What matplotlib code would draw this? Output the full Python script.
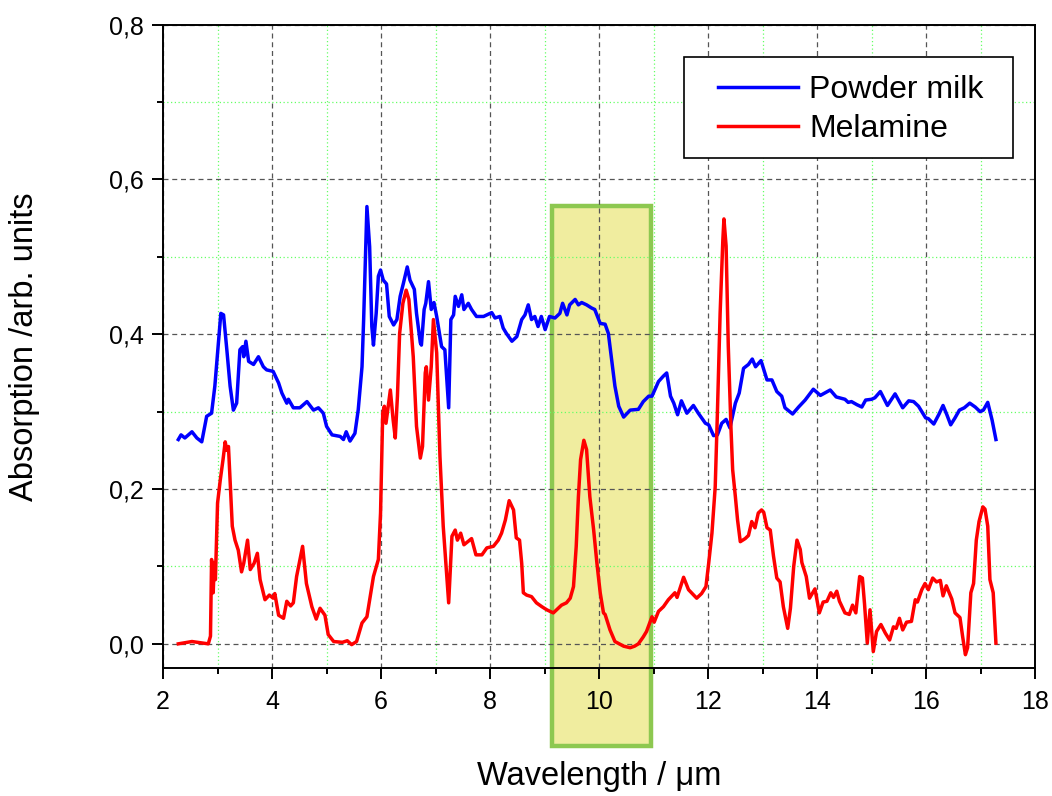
import matplotlib
matplotlib.use('Agg')
import matplotlib.pyplot as plt
import matplotlib.ticker as mtick
from matplotlib.patches import Rectangle

plt.rcParams['font.family'] = ['Liberation Sans', 'DejaVu Sans']

# Powder milk spectrum (wavelength in um, absorption)
milk_x = [2.28, 2.33, 2.40, 2.53, 2.62, 2.71, 2.80, 2.89, 2.95, 3.01, 3.06, 3.11,
          3.17, 3.23, 3.29, 3.35, 3.41, 3.46, 3.48, 3.52, 3.57, 3.66, 3.75, 3.84,
          3.90, 4.02, 4.12, 4.18, 4.27, 4.30, 4.39, 4.51, 4.64, 4.76, 4.85, 4.94,
          5.00, 5.10, 5.25, 5.31, 5.36, 5.43, 5.52, 5.58, 5.65, 5.68, 5.74, 5.79,
          5.83, 5.86, 5.91, 5.95, 5.99, 6.04, 6.10, 6.15, 6.23, 6.29, 6.35, 6.41,
          6.48, 6.53, 6.61, 6.65, 6.72, 6.74, 6.79, 6.82, 6.87, 6.92, 6.97, 7.02,
          7.11, 7.17, 7.24, 7.28, 7.33, 7.36, 7.42, 7.48, 7.52, 7.60, 7.66, 7.75,
          7.88, 8.03, 8.09, 8.18, 8.24, 8.30, 8.40, 8.49, 8.58, 8.64, 8.70, 8.76,
          8.82, 8.88, 8.94, 9.01, 9.09, 9.19, 9.28, 9.33, 9.41, 9.46, 9.56, 9.62,
          9.68, 9.77, 9.86, 9.92, 10.02, 10.11, 10.17, 10.23, 10.29, 10.36, 10.45,
          10.57, 10.72, 10.81, 10.91, 10.97, 11.09, 11.18, 11.24, 11.31, 11.37,
          11.44, 11.51, 11.61, 11.73, 11.82, 11.95, 12.01, 12.10, 12.17, 12.25,
          12.33, 12.40, 12.50, 12.57, 12.65, 12.74, 12.81, 12.87, 12.97, 13.08,
          13.17, 13.26, 13.35, 13.41, 13.55, 13.66, 13.78, 13.93, 14.06, 14.24,
          14.35, 14.51, 14.57, 14.63, 14.73, 14.82, 14.89, 15.00, 15.06, 15.16,
          15.29, 15.43, 15.57, 15.68, 15.77, 15.86, 15.99, 16.04, 16.14, 16.23,
          16.31, 16.38, 16.45, 16.53, 16.61, 16.70, 16.80, 16.90, 16.99, 17.05,
          17.13, 17.21, 17.28]
milk_y = [0.264, 0.270, 0.266, 0.274, 0.266, 0.261, 0.294, 0.298, 0.333, 0.384,
          0.427, 0.425, 0.380, 0.333, 0.302, 0.311, 0.380, 0.384, 0.371, 0.391,
          0.365, 0.361, 0.371, 0.358, 0.354, 0.352, 0.337, 0.324, 0.311, 0.316,
          0.305, 0.305, 0.313, 0.302, 0.305, 0.298, 0.281, 0.270, 0.268, 0.264,
          0.274, 0.262, 0.272, 0.302, 0.358, 0.419, 0.565, 0.513, 0.410, 0.386,
          0.427, 0.475, 0.483, 0.470, 0.465, 0.423, 0.412, 0.419, 0.449, 0.466,
          0.487, 0.470, 0.458, 0.427, 0.389, 0.386, 0.432, 0.440, 0.468, 0.432,
          0.441, 0.423, 0.384, 0.380, 0.305, 0.419, 0.425, 0.449, 0.436, 0.451,
          0.432, 0.440, 0.432, 0.423, 0.423, 0.428, 0.421, 0.423, 0.408, 0.401,
          0.391, 0.397, 0.419, 0.425, 0.438, 0.419, 0.423, 0.410, 0.423, 0.406,
          0.423, 0.421, 0.427, 0.440, 0.425, 0.438, 0.445, 0.438, 0.441, 0.438,
          0.434, 0.432, 0.414, 0.413, 0.401, 0.367, 0.333, 0.307, 0.293, 0.302,
          0.303, 0.313, 0.320, 0.320, 0.339, 0.346, 0.350, 0.320, 0.311, 0.296,
          0.314, 0.298, 0.308, 0.298, 0.285, 0.283, 0.269, 0.270, 0.285, 0.290,
          0.279, 0.311, 0.324, 0.356, 0.361, 0.368, 0.358, 0.366, 0.341, 0.341,
          0.326, 0.320, 0.305, 0.297, 0.306, 0.315, 0.329, 0.321, 0.328, 0.319,
          0.316, 0.312, 0.313, 0.309, 0.306, 0.315, 0.316, 0.318, 0.326, 0.308,
          0.323, 0.305, 0.314, 0.313, 0.307, 0.292, 0.291, 0.284, 0.296, 0.308,
          0.296, 0.283, 0.292, 0.302, 0.305, 0.311, 0.306, 0.300, 0.302, 0.312,
          0.289, 0.264]

# Melamine spectrum
mel_x = [2.28, 2.53, 2.83, 2.87, 2.89, 2.92, 2.94, 2.96, 3.00, 3.05, 3.10, 3.14,
         3.17, 3.20, 3.24, 3.27, 3.32, 3.38, 3.44, 3.48, 3.55, 3.60, 3.67, 3.73,
         3.78, 3.87, 3.95, 4.02, 4.05, 4.12, 4.21, 4.27, 4.34, 4.39, 4.45, 4.56,
         4.63, 4.73, 4.81, 4.88, 4.97, 5.03, 5.13, 5.29, 5.38, 5.46, 5.55, 5.65,
         5.74, 5.80, 5.86, 5.95, 5.99, 6.03, 6.06, 6.09, 6.17, 6.22, 6.26, 6.30,
         6.34, 6.40, 6.46, 6.51, 6.59, 6.65, 6.72, 6.76, 6.81, 6.83, 6.87, 6.92,
         6.96, 7.02, 7.08, 7.14, 7.24, 7.30, 7.36, 7.40, 7.46, 7.52, 7.66, 7.74,
         7.85, 7.94, 8.06, 8.15, 8.21, 8.28, 8.35, 8.43, 8.48, 8.54, 8.58, 8.61,
         8.67, 8.76, 8.85, 8.95, 9.04, 9.16, 9.22, 9.31, 9.40, 9.47, 9.53, 9.58,
         9.62, 9.66, 9.72, 9.77, 9.83, 9.90, 9.96, 10.02, 10.08, 10.11, 10.20,
         10.29, 10.45, 10.57, 10.65, 10.72, 10.81, 10.87, 10.97, 11.01, 11.09,
         11.18, 11.27, 11.39, 11.43, 11.55, 11.64, 11.79, 11.88, 11.96, 12.01,
         12.07, 12.13, 12.17, 12.22, 12.27, 12.29, 12.33, 12.37, 12.42, 12.45,
         12.50, 12.54, 12.59, 12.68, 12.74, 12.80, 12.86, 12.92, 12.98, 13.02,
         13.08, 13.14, 13.20, 13.26, 13.32, 13.38, 13.46, 13.51, 13.57, 13.63,
         13.69, 13.72, 13.80, 13.86, 13.96, 14.04, 14.11, 14.18, 14.25, 14.30,
         14.36, 14.41, 14.51, 14.59, 14.65, 14.71, 14.78, 14.83, 14.87, 14.92,
         14.97, 15.03, 15.09, 15.17, 15.25, 15.33, 15.40, 15.45, 15.51, 15.57,
         15.64, 15.73, 15.80, 15.84, 15.92, 15.98, 16.04, 16.12, 16.19, 16.26,
         16.31, 16.37, 16.47, 16.53, 16.62, 16.67, 16.72, 16.76, 16.82, 16.87,
         16.92, 16.97, 17.04, 17.08, 17.13, 17.17, 17.23, 17.28]
mel_y = [0.000, 0.003, 0.000, 0.010, 0.109, 0.066, 0.105, 0.083, 0.182, 0.212,
         0.238, 0.261, 0.250, 0.255, 0.195, 0.152, 0.134, 0.121, 0.093, 0.104,
         0.134, 0.096, 0.104, 0.117, 0.083, 0.057, 0.063, 0.059, 0.065, 0.037,
         0.033, 0.055, 0.049, 0.053, 0.087, 0.126, 0.078, 0.048, 0.032, 0.046,
         0.037, 0.012, 0.003, 0.002, 0.004, -0.001, 0.003, 0.027, 0.035, 0.061,
         0.087, 0.109, 0.169, 0.298, 0.307, 0.285, 0.328, 0.290, 0.266, 0.320,
         0.401, 0.440, 0.457, 0.445, 0.371, 0.281, 0.240, 0.255, 0.350, 0.358,
         0.315, 0.358, 0.419, 0.376, 0.242, 0.152, 0.053, 0.139, 0.147, 0.134,
         0.143, 0.128, 0.136, 0.115, 0.115, 0.124, 0.126, 0.134, 0.143, 0.160,
         0.185, 0.173, 0.137, 0.134, 0.104, 0.066, 0.063, 0.061, 0.053, 0.048,
         0.044, 0.040, 0.044, 0.050, 0.053, 0.059, 0.074, 0.126, 0.190, 0.238,
         0.263, 0.251, 0.190, 0.147, 0.104, 0.066, 0.040, 0.038, 0.018, 0.003,
         -0.003, -0.005, -0.003, 0.000, 0.009, 0.016, 0.035, 0.028, 0.042, 0.048,
         0.057, 0.066, 0.060, 0.086, 0.070, 0.059, 0.065, 0.074, 0.104, 0.143,
         0.203, 0.298, 0.427, 0.522, 0.549, 0.514, 0.384, 0.277, 0.225, 0.190,
         0.160, 0.132, 0.136, 0.140, 0.158, 0.150, 0.169, 0.173, 0.170, 0.150,
         0.147, 0.113, 0.085, 0.080, 0.048, 0.020, 0.046, 0.100, 0.134, 0.122,
         0.105, 0.087, 0.059, 0.071, 0.040, 0.054, 0.055, 0.066, 0.060, 0.068,
         0.055, 0.040, 0.038, 0.050, 0.040, 0.087, 0.085, 0.051, 0.001, 0.044,
         -0.010, 0.016, 0.025, 0.014, 0.005, 0.022, 0.020, 0.033, 0.018, 0.028,
         0.029, 0.057, 0.054, 0.070, 0.078, 0.070, 0.085, 0.080, 0.082, 0.062,
         0.075, 0.058, 0.040, 0.034, 0.009, -0.014, -0.005, 0.066, 0.078, 0.134,
         0.158, 0.177, 0.174, 0.152, 0.083, 0.066, 0.001]

# highlighted band (um) and its vertical extent
band_x = [9.14, 10.95]
band_y = [-0.132, 0.566]

fig = plt.figure(figsize=(10.52, 7.96), dpi=100)
ax = fig.add_axes([0.155, 0.161, 0.829, 0.808])

ax.plot(milk_x, milk_y, color='#0000ff', lw=2.5, label='Powder milk', zorder=3)
ax.plot(mel_x, mel_y, color='#ff0000', lw=2.5, label='Melamine', zorder=3)

rect = Rectangle((band_x[0], band_y[0]), band_x[1] - band_x[0], band_y[1] - band_y[0],
                 facecolor='#f0ed9f', edgecolor='#8dc850', lw=3.2,
                 clip_on=False, zorder=0.3)
ax.add_patch(rect)

ax.set_xlim(2, 18)
ax.set_ylim(-0.031, 0.8)
ax.xaxis.set_major_locator(mtick.MultipleLocator(2))
ax.xaxis.set_minor_locator(mtick.MultipleLocator(1))
ax.yaxis.set_major_locator(mtick.MultipleLocator(0.2))
ax.yaxis.set_minor_locator(mtick.MultipleLocator(0.1))
ax.yaxis.set_major_formatter(mtick.FuncFormatter(lambda v, p: ('%.1f' % v).replace('.', ',')))

ax.set_axisbelow(True)
ax.grid(which='major', ls=(0, (4, 3)), color='#555555', lw=0.9)
ax.grid(which='minor', ls=(0, (1, 2)), color='#66ff66', lw=0.9)

for s in ax.spines.values():
    s.set_linewidth(1.4)
ax.tick_params(which='major', direction='out', length=8, width=1.4, labelsize=18, pad=6)
ax.tick_params(which='minor', direction='out', length=4, width=1.4)
ax.tick_params(axis='x', which='major', pad=8)

ax.set_xlabel('Wavelength / μm', fontsize=23.5)
ax.set_ylabel('Absorption /arb. units', fontsize=23.5)
ax.xaxis.set_label_coords(0.5, -0.145)
ax.yaxis.set_label_coords(-0.141, 0.5)

# legend frame drawn by hand (wider padding than matplotlib's default box)
box = Rectangle((0.5975, 0.7932), 0.3773, 0.157, transform=ax.transAxes,
                facecolor='white', edgecolor='black', lw=1.2, zorder=4)
ax.add_patch(box)
leg = ax.legend(loc='upper left', bbox_to_anchor=(0.6365, 0.922), borderaxespad=0,
                fontsize=23, frameon=False, borderpad=0,
                handlelength=2.5, handletextpad=0.35, labelspacing=0.3)
leg.set_zorder(5)

plt.savefig('out.png', dpi=100)
